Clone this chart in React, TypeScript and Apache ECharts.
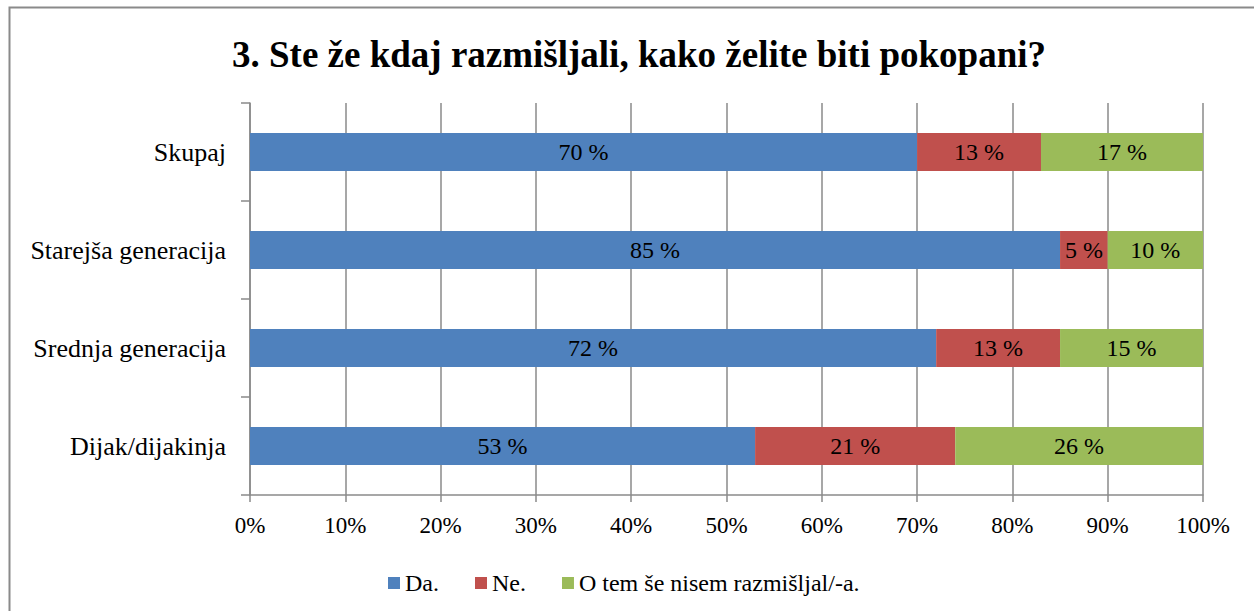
import React, { useEffect, useRef } from "react";
import * as echarts from "echarts";

const categories = ["Skupaj", "Starejša generacija", "Srednja generacija", "Dijak/dijakinja"];
const seriesNames = ["Da.", "Ne.", "O tem še nisem razmišljal/-a."];
const daValues = [70, 85, 72, 53];
const neValues = [13, 5, 13, 21];
const otemValues = [17, 10, 15, 26];
const colors = ["#4F81BD", "#C0504D", "#9BBB59"];
const xTicks = [0, 10, 20, 30, 40, 50, 60, 70, 80, 90, 100];

const FONT = "'Liberation Serif', 'Times New Roman', serif";

export default function App() {
  const ref = useRef<HTMLDivElement>(null);
  useEffect(() => {
    document.body.style.margin = "0";
    if (!ref.current) return;
    const chart = echarts.init(ref.current, null, { renderer: "svg" });
    const values = [daValues, neValues, otemValues];
    chart.setOption({
      animation: false,
      backgroundColor: "#ffffff",
      textStyle: { fontFamily: FONT, color: "#000" },
      title: {
        text: "3. Ste že kdaj razmišljali, kako želite biti pokopani?",
        left: 227,
        top: 31,
        textStyle: { fontFamily: FONT, fontSize: 37, fontWeight: "bold", color: "#000" },
      },
      legend: {
        data: seriesNames,
        left: 383,
        top: 566,
        itemWidth: 12,
        itemHeight: 12,
        itemGap: 36,
        icon: "rect",
        textStyle: { fontFamily: FONT, fontSize: 24, color: "#000" },
      },
      graphic: [
        {
          type: "rect",
          shape: { x: 9.5, y: 7.5, width: 1300, height: 700 },
          style: { fill: "none", stroke: "#8a8a8a", lineWidth: 2 },
          silent: true,
        },
      ],
      grid: { left: 250, right: 51, top: 103, bottom: 116, containLabel: false },
      xAxis: {
        type: "value",
        min: 0,
        max: 100,
        interval: 10,
        axisLine: { show: true, lineStyle: { color: "#8a8a8a", width: 1.5 } },
        axisTick: { show: true, length: 7, lineStyle: { color: "#8a8a8a", width: 1.5 } },
        splitLine: { show: true, lineStyle: { color: "#8a8a8a", width: 1.5 } },
        axisLabel: {
          fontFamily: FONT,
          fontSize: 23,
          color: "#000",
          margin: 19,
          formatter: (v: number) => (xTicks.includes(v) ? v + "%" : ""),
        },
      },
      yAxis: {
        type: "category",
        inverse: true,
        data: categories,
        axisLine: { show: true, lineStyle: { color: "#8a8a8a", width: 1.5 } },
        axisTick: { show: true, length: 9, lineStyle: { color: "#8a8a8a", width: 1.5 } },
        axisLabel: { fontFamily: FONT, fontSize: 26, color: "#000", margin: 24 },
      },
      series: seriesNames.map((name, i) => ({
        name,
        type: "bar",
        stack: "total",
        barWidth: 38,
        data: values[i],
        itemStyle: { color: colors[i] },
        label: {
          show: true,
          position: "inside",
          formatter: (p: any) => p.value + " %",
          fontFamily: FONT,
          fontSize: 24,
          color: "#000",
        },
      })),
    });
    return () => chart.dispose();
  }, []);
  return <div ref={ref} style={{ width: 1254, height: 611 }} />;
}
